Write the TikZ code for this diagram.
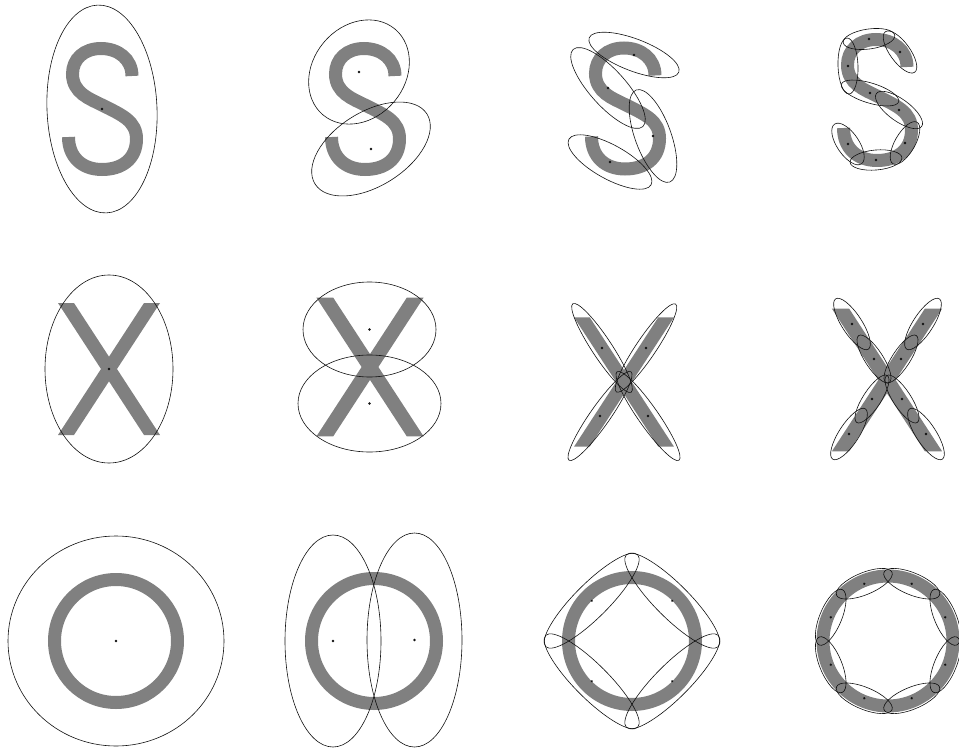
\documentclass[tikz,border=0pt]{standalone}
\usepackage{tikz}
\definecolor{glyph}{HTML}{808080}
\definecolor{ink}{HTML}{111111}
\tikzset{
  letter/.style={draw=glyph, line width=13pt},
  letterfill/.style={fill=glyph},
  contour/.style={draw=ink, line width=0.6pt},
  mean/.style={fill=ink},
  glyphS/.pic={
    \draw[letter] (30,-33) .. controls (30,-50) and (16,-60.5) .. (-1,-60.5)
      .. controls (-18,-60.5) and (-29.5,-50) .. (-29.5,-35)
      .. controls (-29.5,-16) and (-12,-10) .. (0,-4)
      .. controls (20,6) and (34.5,12) .. (34.5,30)
      .. controls (34.5,50) and (20,60.5) .. (0,60.5)
      .. controls (-20,60.5) and (-33.5,48) .. (-33.5,28);
  },
  glyphX/.pic={
    \fill[letterfill] (-51,-66) -- (-35,-66) -- (51,66) -- (35,66) -- cycle;
    \fill[letterfill] (35,-66) -- (51,-66) -- (-35,66) -- (-51,66) -- cycle;
  }
}

\begin{document}
\begin{tikzpicture}[x=1pt, y=-1pt]
  \useasboundingbox (0,0) rectangle (959,752);

  \pic at (102,109) {glyphS};
  \pic at (365,109) {glyphS};
  \pic at (625,108.5) {glyphS};
  \pic at (877,100) {glyphS};

  \pic at (109,369) {glyphX};
  \pic[scale=1.05] at (370,367) {glyphX};
  \pic[scale=0.98] at (624,382) {glyphX};
  \pic[scale=1.08] at (887,380) {glyphX};

  \draw[letter] (116,641) circle [radius=61.5];
  \draw[letter] (374,641) circle [radius=62.5];
  \draw[letter] (632,641) circle [radius=63.5];
  \draw[letter] (888,641) circle [radius=65];

  \foreach \cx/\cy/\ra/\rb/\ang in {
      102/109/104/55/92.5, 359/72/56/46/50, 371/149/66/37/32,
      634/55/48/16/-21, 608/88/52/18/-48, 653/136/49/18/-70, 610/162/47/17/-29,
      869/39/26/10/8, 900/52/25/10/-54, 848/66/28/10/92, 870/93/30/10/-17,
      899/110/28/11/-36, 905/143/24/10/60, 876/160/26/10/5, 848/144/24/11/-56,
      109/369/64/94/0, 369.5/329.5/66.5/47.5/0, 369.5/403.5/71.5/48.5/0,
      602/348/53/10/-56.6, 646/348/53/10/56, 600/416/54/10/55, 648/416/54/10/-55,
      852/324/30/10/-57, 923/324/30/10/57, 849/434/30/10/57, 926/434/30/10/-57,
      874/359/28/9/-57, 901/359/28/9/57, 872/399/28/9/57, 902/399/28/9/-57,
      116/641/108/105/0, 333/641/48/106/0, 414.5/640/47.5/107/0}{
    \draw[contour, rotate around={\ang:(\cx,\cy)}] (\cx,\cy) ellipse [x radius=\ra, y radius=\rb];
    \fill[mean] (\cx,\cy) circle [radius=1.3];
  }

  \foreach \t in {45,135,225,315}{
    \draw[contour, shift={(632,641)}, rotate=\t] (57,0) ellipse [x radius=17, y radius=65];
    \fill[mean, shift={(632,641)}, rotate=\t] (57,0) circle [radius=1.3];
  }
  \foreach \t in {22.5,67.5,...,337.5}{
    \draw[contour, shift={(888,641)}, rotate=\t] (62,0) ellipse [x radius=11, y radius=30];
    \fill[mean, shift={(888,641)}, rotate=\t] (62,0) circle [radius=1.3];
  }
\end{tikzpicture}
\end{document}
